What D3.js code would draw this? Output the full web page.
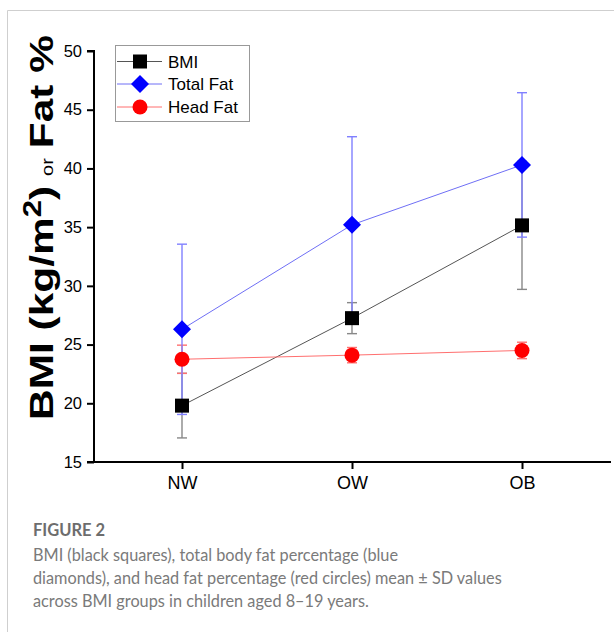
<!DOCTYPE html>
<html><head><meta charset="utf-8">
<script src="https://cdn.jsdelivr.net/npm/d3@7"></script>
<style>
html,body{margin:0;padding:0;background:#fff;}
svg{display:block;}
.arial{font-family:"Liberation Sans", Arial, sans-serif;}
.cap{font-family:Lato, "Open Sans", sans-serif;}
</style></head>
<body>
<script>
const categories = ["NW", "OW", "OB"];
const bmiMean = [19.8, 27.25, 35.15];
const bmiSD = [2.75, 1.32, 5.45];
const totalFatMean = [26.3, 35.2, 40.3];
const totalFatSD = [7.25, 7.5, 6.15];
const headFatMean = [23.75, 24.1, 24.5];
const headFatSD = [1.2, 0.65, 0.7];
const yTicks = [15, 20, 25, 30, 35, 40, 45, 50];
const legendLabels = ["BMI", "Total Fat", "Head Fat"];
const captionTitle = "FIGURE 2";
const captionLines = [
  "BMI (black squares), total body fat percentage (blue",
  "diamonds), and head fat percentage (red circles) mean \u00B1 SD values",
  "across BMI groups in children aged 8\u201319 years."
];

const W = 614, H = 632;
const svg = d3.select("body").append("svg").attr("width", W).attr("height", H);

// card border
svg.append("path").attr("d", `M7.5,${H} V10.5 H${W}`).attr("fill","none").attr("stroke","#cfcfcf").attr("stroke-width",1);

const x = d3.scalePoint().domain(categories).range([182, 522]);
const y = d3.scaleLinear().domain([15, 50]).range([462, 51]);
const axisLeftX = 94, axisRightX = 611;

// axes
const gy = svg.append("g").attr("transform", `translate(${axisLeftX},0)`)
  .call(d3.axisLeft(y).tickValues(yTicks).tickSize(7).tickPadding(5));
gy.selectAll("path,line").attr("stroke","#000").attr("stroke-width",2);
gy.select(".domain").attr("d", `M-7,${y(50)}H0V${y(15)}H-7`);
gy.selectAll("text").attr("class","arial").attr("font-family",null).attr("font-size",16.5).attr("fill","#000");

const gx = svg.append("g").attr("transform", `translate(0,${y(15)})`)
  .call(d3.axisBottom(x).tickSize(7).tickPadding(7));
gx.select(".domain").attr("d", `M${axisLeftX},0H${axisRightX}`);
gx.selectAll("path,line").attr("stroke","#000").attr("stroke-width",2);
gx.selectAll("text").attr("class","arial").attr("font-family",null).attr("font-size",18).attr("fill","#000");

// y title (stretched along its direction to span the axis like the reference)
const ytg = svg.append("g");
const yt = ytg.append("text").attr("class","arial").attr("text-anchor","middle").attr("fill","#000");
yt.append("tspan").attr("font-weight","bold").attr("font-size",34).text("BMI (kg/m");
yt.append("tspan").attr("font-weight","bold").attr("font-size",25).attr("dy",-12).text("2");
yt.append("tspan").attr("font-weight","bold").attr("font-size",34).attr("dy",12).text(")");
yt.append("tspan").attr("font-size",16).attr("dx",8).text("or");
yt.append("tspan").attr("font-weight","bold").attr("font-size",34).attr("dx",8).text("Fat %");
const bb = yt.node().getBBox();
const targetLen = 385, sx = targetLen / bb.width;
ytg.attr("transform", `translate(53,${227.5}) rotate(-90) scale(${sx},1) translate(${-(bb.x + bb.width/2)},0)`);

const series = [
  {name: legendLabels[0], mean: bmiMean, sd: bmiSD, line:"#555555", err:"#888888", fill:"#000", shape:"square"},
  {name: legendLabels[1], mean: totalFatMean, sd: totalFatSD, line:"#6f6ff5", err:"#8080ff", fill:"#0000ff", shape:"diamond"},
  {name: legendLabels[2], mean: headFatMean, sd: headFatSD, line:"#ff6f6f", err:"#ff7070", fill:"#ff0000", shape:"circle"}
];

function marker(g, s, cx, cy) {
  if (s.shape === "square") g.append("rect").attr("x",cx-7).attr("y",cy-7).attr("width",14).attr("height",14).attr("fill",s.fill);
  else if (s.shape === "diamond") g.append("path").attr("d",`M${cx},${cy-9}L${cx+9},${cy}L${cx},${cy+9}L${cx-9},${cy}Z`).attr("fill",s.fill);
  else g.append("circle").attr("cx",cx).attr("cy",cy).attr("r",7.5).attr("fill",s.fill);
}

const drawOrder = [0, 2, 1];
// error bars
drawOrder.forEach(i => {
  const s = series[i];
  const g = svg.append("g");
  categories.forEach((c, j) => {
    const cx = x(c), y1 = y(s.mean[j] + s.sd[j]), y0 = y(s.mean[j] - s.sd[j]);
    g.append("line").attr("x1",cx).attr("x2",cx).attr("y1",y1).attr("y2",y0).attr("stroke",s.err).attr("stroke-width",1.4);
    [y1, y0].forEach(yy => g.append("line").attr("x1",cx-5).attr("x2",cx+5).attr("y1",yy).attr("y2",yy).attr("stroke",s.err).attr("stroke-width",1.4));
  });
});
// lines and markers
drawOrder.forEach(i => {
  const s = series[i];
  const g = svg.append("g");
  g.append("path").datum(s.mean)
    .attr("d", d3.line().x((d,j)=>x(categories[j])).y(d=>y(d)))
    .attr("fill","none").attr("stroke",s.line).attr("stroke-width",1);
  s.mean.forEach((d,j) => marker(g, s, x(categories[j]), y(d)));
});

// legend
const lg = svg.append("g");
lg.append("rect").attr("x",115.5).attr("y",45.5).attr("width",134).attr("height",76).attr("fill","#fff").attr("stroke","#999").attr("stroke-width",1);
const legY = [61.5, 84, 107];
series.forEach((s, i) => {
  lg.append("line").attr("x1",117).attr("x2",162).attr("y1",legY[i]).attr("y2",legY[i]).attr("stroke",s.line).attr("stroke-width",1);
  marker(lg, s, 140, legY[i]);
  lg.append("text").attr("class","arial").attr("x",168).attr("y",legY[i]+6).attr("font-size",17).attr("fill","#000").text(s.name);
});

// caption
svg.append("text").attr("class","cap").attr("x",33).attr("y",536).attr("font-size",16.5).attr("font-weight","bold").attr("fill","#6d6d6d").text(captionTitle);
captionLines.forEach((t,i) => {
  svg.append("text").attr("class","cap").attr("x",33).attr("y",561 + i*23).attr("font-size",16.3).attr("fill","#7a7a7a").text(t);
});
</script>
</body></html>
